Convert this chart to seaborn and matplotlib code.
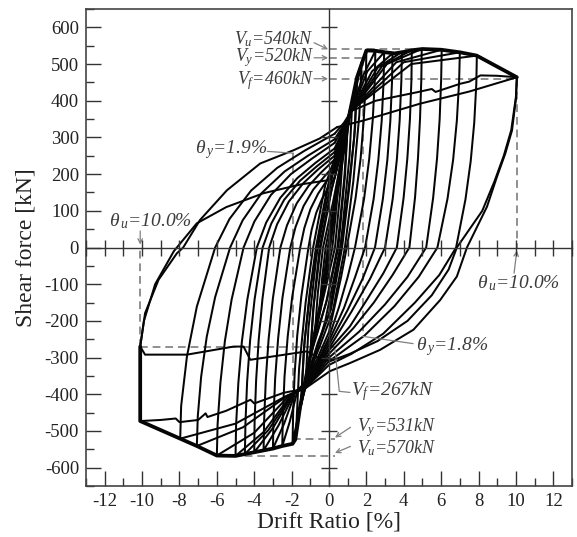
import matplotlib
matplotlib.use("Agg")
import matplotlib.pyplot as plt
from matplotlib.ticker import MultipleLocator
import seaborn as sns

# ---------------- data ----------------
# skeleton (envelope) curves
ENV_POS_X = [0.0, 0.6, 1.1, 1.5, 2.0, 2.5, 3.0, 3.5, 4.0, 4.5, 5.0, 6.0, 7.0, 7.9, 10.05]
ENV_POS_Y = [0, 210, 365, 464, 537, 536, 532, 529, 533, 538, 541, 539, 532, 523, 464]
ENV_NEG_X = [0.0, -0.47, -1.18, -1.54, -1.8, -1.95, -2.5, -3.0, -3.5, -4.0, -4.5, -5.0, -6.0, -7.07, -7.96, -10.1, -10.1]
ENV_NEG_Y = [0, -161, -341, -432, -523, -535, -541, -548, -553, -558, -563, -568, -567, -541, -521, -473, -270]

# small cycles (steep bundle)
SC1_X = [0.0, 0.25, 0.16, 0.06, -0.12, -0.25, -0.16, -0.06, 0.12, 0.25]
SC1_Y = [0, 95, 45, 0, -45, -88, -42, 0, 45, 95]
SC2_X = [0.25, 0.5, 0.38, 0.18, -0.15, -0.5, -0.38, -0.18, 0.15, 0.5]
SC2_Y = [95, 180, 100, 0, -85, -170, -90, 0, 85, 180]
SC3_X = [0.5, 0.75, 0.6, 0.32, -0.2, -0.75, -0.6, -0.32, 0.2, 0.75]
SC3_Y = [180, 262, 150, 0, -115, -232, -125, 0, 120, 262]
SC4_X = [0.75, 1.0, 0.86, 0.5, -0.1, -0.6, -1.0, -0.85, -0.5, 0.1, 0.6, 1.0]
SC4_Y = [262, 335, 200, 0, -140, -230, -295, -170, 0, 150, 250, 335]
SC4B_X = [1.0, 0.82, 0.45, -0.15, -1.0, -0.82, -0.45, 0.15, 1.0]
SC4B_Y = [330, 190, 0, -150, -290, -160, 0, 160, 330]
SC5_X = [1.0, 1.25, 1.1, 0.62, 0.0, -0.7, -1.25, -1.1, -0.62, 0.0, 0.7, 1.25]
SC5_Y = [335, 400, 250, 0, -180, -285, -370, -220, 0, 180, 290, 400]
SC6_X = [1.25, 1.5, 1.4, 1.1, 0.7, 0.1, -0.6, -1.1, -1.5, -1.35, -1.05, -0.7, -0.1, 0.5, 1.1, 1.5]
SC6_Y = [400, 464, 330, 170, 0, -170, -260, -340, -432, -280, -130, 0, 160, 260, 365, 464]
SC6B_X = [1.5, 1.35, 1.0, 0.6, -0.2, -0.9, -1.5, -1.3, -0.95, -0.6, 0.2, 0.9, 1.5]
SC6B_Y = [455, 300, 140, 0, -200, -320, -425, -250, -100, 0, 200, 330, 455]
SC7_X = [1.5, 1.75, 1.62, 1.3, 0.85, 0.2, -0.5, -1.2, -1.75, -1.6, -1.25, -0.85, -0.2, 0.5, 1.2, 1.75]
SC7_Y = [464, 505, 360, 180, 0, -175, -270, -360, -490, -330, -150, 0, 170, 270, 375, 505]

# large cycles
A_X = [1.5, 2.0, 1.97, 1.86, 1.69, 1.42, 0.95, 0.65, 0.35, 0.0, -0.6, -1.2, -1.55, -1.95, -1.92, -1.84, -1.70, -1.48, -1.10, -0.93, -0.68, -0.37, -0.05, 0.30]
A_Y = [464, 537, 456, 349, 242, 134, 0, -80, -150, -230, -300, -360, -432, -535, -453, -346, -240, -133, 0, 48, 95, 133, 162, 190]
B_X = [0.30, 0.80, 1.20, 1.84, 2.48, 2.45, 2.34, 2.15, 1.88, 1.39, 1.00, 0.55, 0.00, -0.60, -1.25, -1.70, -2.10, -2.50, -2.47, -2.38, -2.21, -1.97, -1.54, -1.32, -0.99, -0.58, -0.16, 0.30]
B_Y = [190, 300, 375, 470, 536, 456, 348, 241, 134, 0, -80, -160, -245, -310, -365, -392, -475, -541, -460, -352, -243, -135, 0, 53, 105, 147, 179, 210]
C_X = [0.30, 0.80, 1.20, 2.05, 2.95, 2.92, 2.82, 2.64, 2.39, 1.93, 1.40, 0.80, 0.00, -0.60, -1.25, -1.80, -2.40, -3.00, -2.97, -2.88, -2.72, -2.49, -2.07, -1.79, -1.36, -0.84, -0.29, 0.30]
C_Y = [210, 310, 372, 480, 532, 452, 346, 239, 133, 0, -80, -165, -255, -315, -368, -395, -480, -548, -466, -356, -247, -137, 0, 56, 113, 158, 191, 225]
D_X = [0.30, 0.80, 1.20, 2.30, 3.40, 3.37, 3.28, 3.12, 2.88, 2.46, 1.80, 1.00, 0.00, -0.60, -1.25, -1.85, -2.70, -3.50, -3.47, -3.38, -3.23, -3.00, -2.60, -2.25, -1.73, -1.09, -0.43, 0.30]
D_Y = [225, 315, 372, 480, 529, 450, 344, 238, 132, 0, -85, -170, -265, -320, -370, -397, -485, -553, -470, -359, -249, -138, 0, 60, 120, 168, 204, 240]
E_X = [0.30, 0.80, 1.20, 2.60, 3.90, 3.87, 3.78, 3.63, 3.41, 3.00, 2.20, 1.20, 0.00, -0.60, -1.30, -1.90, -3.00, -4.00, -3.98, -3.90, -3.76, -3.56, -3.20, -2.78, -2.15, -1.38, -0.58, 0.30]
E_Y = [240, 318, 372, 490, 533, 453, 346, 240, 133, 0, -85, -175, -275, -325, -372, -398, -492, -558, -474, -363, -251, -140, 0, 63, 125, 175, 213, 250]
F_X = [0.30, 0.80, 1.20, 2.85, 4.43, 4.41, 4.33, 4.19, 3.99, 3.63, 2.91, 2.02, 1.12, 0.00, -0.60, -1.30, -1.95, -3.25, -4.50, -4.47, -4.38, -4.22, -3.98, -3.55, -3.09, -2.40, -1.55, -0.66, 0.30]
F_Y = [250, 320, 372, 495, 538, 457, 350, 242, 135, 0, -70, -143, -215, -280, -330, -375, -400, -498, -563, -479, -366, -253, -141, 0, 65, 130, 182, 221, 260]
G_X = [0.30, 0.80, 1.20, 3.10, 4.96, 4.94, 4.87, 4.76, 4.60, 4.30, 3.40, 2.40, 1.30, 0.00, -0.60, -1.30, -2.00, -3.50, -5.00, -4.97, -4.85, -4.66, -4.37, -3.86, -3.36, -2.61, -1.70, -0.74, 0.30]
G_Y = [260, 322, 372, 500, 541, 460, 352, 243, 135, 0, -75, -150, -220, -290, -335, -378, -400, -503, -568, -483, -369, -256, -142, 0, 68, 135, 189, 230, 270]
H_X = [0.30, 0.80, 1.20, 3.60, 6.03, 6.00, 5.92, 5.78, 5.57, 5.20, 4.20, 3.00, 1.60, 0.00, -0.60, -1.30, -2.10, -4.00, -6.00, -5.96, -5.81, -5.57, -5.21, -4.57, -3.99, -3.11, -2.04, -0.92, 0.30]
H_Y = [270, 325, 372, 505, 539, 458, 350, 243, 135, 0, -80, -155, -230, -300, -340, -380, -402, -505, -567, -482, -369, -255, -142, 0, 71, 143, 200, 242, 285]
I_X = [0.30, 0.80, 1.20, 4.00, 7.00, 6.96, 6.84, 6.64, 6.34, 5.80, 4.80, 3.50, 1.90, 0.00, -0.60, -1.30, -2.20, -4.60, -7.07, -7.02, -6.84, -6.54, -6.09, -5.29, -4.62, -3.61, -2.38, -1.10, 0.30]
I_Y = [285, 330, 372, 505, 532, 452, 346, 239, 133, 0, -80, -160, -240, -310, -345, -382, -403, -490, -541, -460, -352, -243, -135, 0, 74, 148, 207, 251, 295]
J_X = [0.30, 0.80, 1.20, 4.40, 7.91, 7.88, 7.77, 7.58, 7.30, 6.80, 5.90, 4.60, 2.90, 1.20, 0.00, -0.60, -1.30, -2.30, -5.00, -7.96, -7.91, -7.60, -7.07, -6.09, -5.32, -4.17, -2.77, -1.30, 0.30]
J_Y = [295, 335, 374, 500, 523, 445, 340, 235, 131, 0, -75, -150, -235, -290, -320, -350, -385, -405, -480, -521, -432, -297, -161, 0, 78, 155, 217, 264, 310]
K1_X = [0.30, 0.80, 1.20, 2.50, 4.70, 5.50, 5.70, 7.00, 7.50, 8.10, 9.00, 10.05, 10.00, 9.79, 9.43, 8.98, 8.45, 7.38, 6.84, 5.95, 4.52, 2.73, 1.12, 0.05, -0.60, -1.30, -2.43, -4.00, -4.20, -5.50, -6.50, -6.60, -7.00, -8.00, -8.20, -9.00, -10.10, -10.10, -9.84, -9.12, -8.14, -7.80, -6.90, -5.46, -3.68, -1.90, -0.50, 0.43]
K1_Y = [310, 340, 372, 400, 423, 432, 424, 446, 452, 469, 468, 464, 405, 319, 256, 192, 111, 0, -79, -143, -224, -279, -315, -337, -360, -385, -396, -425, -415, -445, -462, -452, -470, -476, -466, -470, -473, -270, -179, -88, -16, 0, 75, 156, 229, 265, 297, 328]
K2_X = [0.43, 1.84, 4.87, 7.50, 10.05, 10.00, 9.75, 9.35, 8.85, 8.20, 6.84, 6.40, 5.50, 4.20, 2.60, 1.10, 0.05, -0.60, -1.18, -4.21, -4.57, -5.10, -7.60, -9.84, -10.10]
K2_Y = [328, 346, 392, 425, 464, 410, 320, 250, 180, 100, 0, -60, -130, -200, -255, -290, -310, -300, -283, -306, -270, -270, -292, -292, -270]
K3_X = [-10.10, -9.90, -9.30, -8.30, -7.07, -5.50, -3.50, -1.50, -0.10, 0.45]
K3_Y = [-270, -200, -100, -10, 66, 110, 148, 172, 183, 215]

# reference (characteristic) values
V_U_POS, V_Y_POS, V_F_POS = 540, 517, 460
THETA_Y_POS, THETA_U_POS = 1.8, 10.05
V_U_NEG, V_Y_NEG, V_F_NEG = -568, -522, -270
THETA_Y_NEG, THETA_U_NEG = -1.9, -10.1
X_TICKS = [-12, -10, -8, -6, -4, -2, 0, 2, 4, 6, 8, 10, 12]
Y_TICKS = [-600, -500, -400, -300, -200, -100, 0, 100, 200, 300, 400, 500, 600]

# ---------------- style ----------------
sns.set_theme(style="white")
plt.rcParams["font.family"] = ["Liberation Serif", "DejaVu Serif"]
plt.rcParams["mathtext.fontset"] = "custom"
plt.rcParams["mathtext.rm"] = "Liberation Serif:italic"
plt.rcParams["mathtext.it"] = "Liberation Serif:italic"
plt.rcParams["mathtext.bf"] = "Liberation Serif:italic:bold"
plt.rcParams["axes.unicode_minus"] = False

fig = plt.figure(figsize=(5.77, 5.37), dpi=100)
ax = fig.add_axes([86 / 577, 1 - 486 / 537, (572 - 86) / 577, (486 - 9) / 537])
XLIM, YLIM = (-13, 13), (-650, 650)

LINE = "#050505"
curves = [(SC1_X, SC1_Y), (SC2_X, SC2_Y), (SC3_X, SC3_Y), (SC4_X, SC4_Y),
          (SC4B_X, SC4B_Y), (SC5_X, SC5_Y), (SC6_X, SC6_Y), (SC6B_X, SC6B_Y),
          (SC7_X, SC7_Y), (A_X, A_Y), (B_X, B_Y), (C_X, C_Y),
          (D_X, D_Y), (E_X, E_Y), (F_X, F_Y), (G_X, G_Y), (H_X, H_Y),
          (I_X, I_Y), (J_X, J_Y), (K1_X, K1_Y), (K2_X, K2_Y), (K3_X, K3_Y)]
for xs, ys in curves:
    sns.lineplot(x=xs, y=ys, sort=False, estimator=None, color=LINE, lw=1.45, ax=ax)
for xs, ys in [(ENV_POS_X, ENV_POS_Y), (ENV_NEG_X, ENV_NEG_Y)]:
    sns.lineplot(x=xs, y=ys, sort=False, estimator=None, color=LINE, lw=2.7, ax=ax)

# dashed reference lines
DASH = dict(color="#8f8f8f", lw=1.4, ls=(0, (4, 2.5)), zorder=1.5)
ax.plot([0, 5.0], [V_U_POS, V_U_POS], **DASH)
ax.plot([0, THETA_Y_POS], [V_Y_POS, V_Y_POS], **DASH)
ax.plot([0, THETA_U_POS], [V_F_POS, V_F_POS], **DASH)
ax.plot([THETA_Y_POS, THETA_Y_POS], [V_Y_POS, -240], **DASH)
ax.plot([THETA_U_POS, THETA_U_POS], [V_F_POS, 0], **DASH)
ax.plot([THETA_Y_NEG, THETA_Y_NEG], [258, V_Y_NEG], **DASH)
ax.plot([THETA_U_NEG, THETA_U_NEG], [V_F_NEG, 0], **DASH)
ax.plot([THETA_U_NEG, 0.3], [V_F_NEG, V_F_NEG], **DASH)
ax.plot([THETA_Y_NEG, 0.3], [V_Y_NEG, V_Y_NEG], **DASH)
ax.plot([-5.2, 0.3], [V_U_NEG, V_U_NEG], **DASH)

# annotations
TXT = dict(color="#3c3c3c", fontsize=14, style="italic")
TXS = dict(color="#3c3c3c", fontsize=13, style="italic")
ARW = dict(arrowstyle="->", color="#808080", lw=0.9, shrinkA=0, shrinkB=0, mutation_scale=8)
ax.text(-0.8, 567, r"$V_u$=540kN", ha="right", va="center", **TXS)
ax.text(-0.8, 518, r"$V_y$=520kN", ha="right", va="center", **TXS)
ax.text(-0.8, 455, r"$V_f$=460kN", ha="right", va="center", **TXS)
ax.annotate("", xy=(-0.05, V_U_POS), xytext=(-0.8, 558), arrowprops=ARW)
ax.annotate("", xy=(-0.05, V_Y_POS), xytext=(-0.8, V_Y_POS), arrowprops=ARW)
ax.annotate("", xy=(-0.05, V_F_POS), xytext=(-0.8, V_F_POS), arrowprops=ARW)

ax.text(-3.3, 268, r"$\theta_{\,y}$=1.9%", ha="right", va="center", **TXT)
ax.plot([-3.3, THETA_Y_NEG], [262, 257], color="#808080", lw=0.9)
ax.text(-11.75, 72, r"$\theta_{\,u}$=10.0%", ha="left", va="center", **TXT)
ax.annotate("", xy=(THETA_U_NEG, 8), xytext=(THETA_U_NEG, 45), arrowprops=ARW)
ax.text(7.9, -97, r"$\theta_{\,u}$=10.0%", ha="left", va="center", **TXT)
ax.annotate("", xy=(THETA_U_POS, -8), xytext=(9.9, -70), arrowprops=ARW)
ax.text(4.65, -270, r"$\theta_{\,y}$=1.8%", ha="left", va="center", **TXT)
ax.plot([4.5, THETA_Y_POS], [-262, -242], color="#808080", lw=0.9)
ax.text(1.2, -392, r"$V_f$=267kN", ha="left", va="center", **TXT)
ax.plot([1.12, 0.55, 0.32], [-395, -392, V_F_NEG - 8], color="#808080", lw=0.9)
ax.text(1.48, -490, r"$V_y$=531kN", ha="left", va="center", **TXS)
ax.text(1.48, -546, r"$V_u$=570kN", ha="left", va="center", **TXS)
ax.annotate("", xy=(0.32, V_Y_NEG + 4), xytext=(1.15, -490), arrowprops=ARW)
ax.annotate("", xy=(0.32, V_U_NEG + 8), xytext=(1.15, -542), arrowprops=ARW)

# main frame
ax.set_xlim(*XLIM)
ax.set_ylim(*YLIM)
ax.set_xticks(X_TICKS)
ax.set_yticks(Y_TICKS)
ax.set_xticklabels([str(v) for v in X_TICKS])
ax.set_yticklabels([str(v) for v in Y_TICKS])
ax.xaxis.set_minor_locator(MultipleLocator(1))
ax.yaxis.set_minor_locator(MultipleLocator(50))
ax.tick_params(which="both", direction="in", colors="#333333", width=1.0,
               bottom=True, left=True, top=False, right=False, labelsize=13.5,
               labelcolor="#222222")
ax.tick_params(which="major", length=11, pad=5)
ax.tick_params(which="minor", length=5.5)
for sp in ax.spines.values():
    sp.set_visible(True)
    sp.set_color("#444444")
    sp.set_linewidth(1.2)
ax.set_xlabel("Drift Ratio [%]", fontsize=17, color="#222222", labelpad=1)
ax.set_ylabel("Shear force [kN]", fontsize=17, color="#222222", labelpad=6)

# axes through the origin with crossing ticks
ax2 = fig.add_axes(ax.get_position())
ax2.set_xlim(*XLIM)
ax2.set_ylim(*YLIM)
ax2.patch.set_visible(False)
for side in ["top", "right"]:
    ax2.spines[side].set_visible(False)
ax2.spines["left"].set_position(("data", 0))
ax2.spines["bottom"].set_position(("data", 0))
for side in ["left", "bottom"]:
    ax2.spines[side].set_color("#333333")
    ax2.spines[side].set_linewidth(1.0)
ax2.xaxis.set_major_locator(MultipleLocator(1))
ax2.yaxis.set_major_locator(MultipleLocator(100))
ax2.tick_params(which="major", direction="inout", length=11, width=1.0, colors="#333333",
                labelbottom=False, labelleft=False, bottom=True, left=True)
ax2.tick_params(which="minor", bottom=False, left=False)

fig.savefig("out.png", dpi=100)
